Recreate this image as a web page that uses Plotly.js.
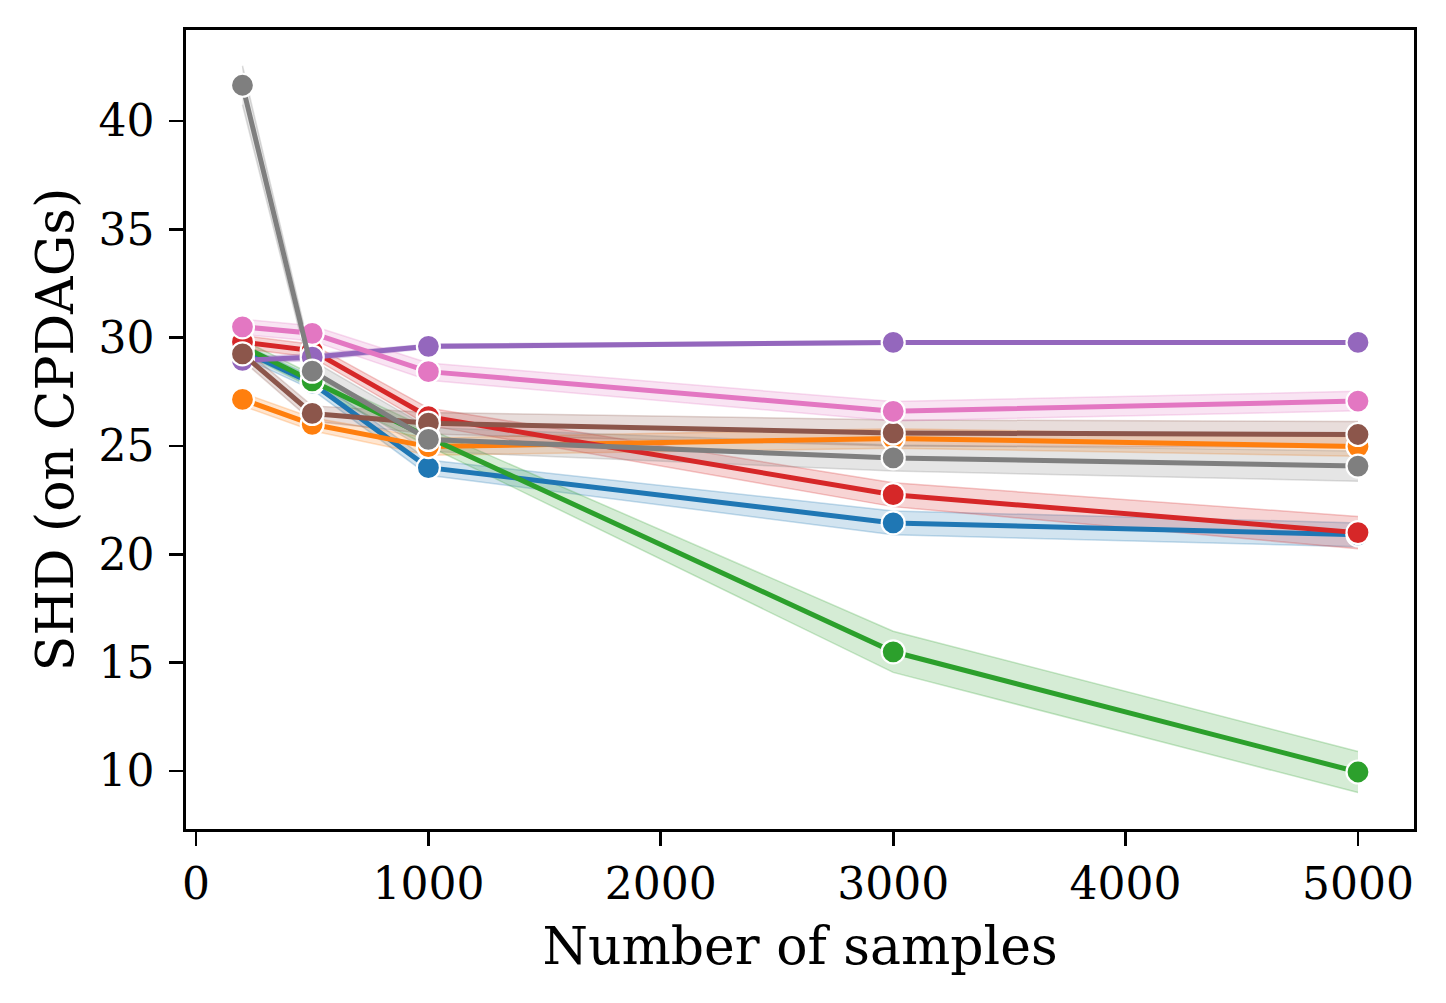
<!DOCTYPE html>
<html>
<head>
<meta charset="utf-8">
<script src="https://cdn.plot.ly/plotly-3.0.1.min.js"></script>
<style>html,body{margin:0;padding:0;background:#fff;}#chart{width:1446px;height:1003px;}</style>
</head>
<body>
<div id="chart"></div>
<script>
const samples = [200, 500, 1000, 3000, 5000];

const seriesNames = ["s1", "s2", "s3", "s4", "s5", "s6", "s7", "s8"];
const seriesColors = ["#1f77b4", "#ff7f0e", "#2ca02c", "#d62728", "#9467bd", "#8c564b", "#e377c2", "#7f7f7f"];

const blueMean   = [29.4, 27.9, 24.0, 21.45, 20.9];
const orangeMean = [27.15, 26.0, 24.97, 25.35, 24.97];
const greenMean  = [29.6, 28.0, 25.4, 15.5, 9.95];
const redMean    = [29.8, 29.4, 26.35, 22.75, 21.0];
const purpleMean = [28.95, 29.1, 29.6, 29.78, 29.78];
const brownMean  = [29.25, 26.5, 26.05, 25.6, 25.53];
const pinkMean   = [30.5, 30.2, 28.43, 26.6, 27.07];
const grayMean   = [41.65, 28.45, 25.3, 24.45, 24.07];

const blueHalf   = [0.3, 0.3, 0.35, 0.55, 0.55];
const orangeHalf = [0.3, 0.3, 0.4, 0.45, 0.45];
const greenHalf  = [0.3, 0.3, 0.4, 0.95, 0.95];
const redHalf    = [0.3, 0.3, 0.4, 0.55, 0.75];
const purpleHalf = [0.15, 0.15, 0.1, 0.08, 0.08];
const brownHalf  = [0.3, 0.35, 0.5, 0.6, 0.6];
const pinkHalf   = [0.35, 0.35, 0.4, 0.45, 0.45];
const grayHalf   = [0.9, 0.5, 0.55, 0.6, 0.7];

const xTicks = [0, 1000, 2000, 3000, 4000, 5000];
const yTicks = [10, 15, 20, 25, 30, 35, 40];

const means = [blueMean, orangeMean, greenMean, redMean, purpleMean, brownMean, pinkMean, grayMean];
const halves = [blueHalf, orangeHalf, greenHalf, redHalf, purpleHalf, brownHalf, pinkHalf, grayHalf];

function rgba(hex, a) {
  const r = parseInt(hex.slice(1,3),16), g = parseInt(hex.slice(3,5),16), b = parseInt(hex.slice(5,7),16);
  return `rgba(${r},${g},${b},${a})`;
}

const traces = [];
means.forEach((m, i) => {
  const lo = m.map((v, k) => v - halves[i][k]);
  const hi = m.map((v, k) => v + halves[i][k]);
  traces.push({x: samples, y: lo, mode: 'lines', line: {color: rgba(seriesColors[i], 0.25), width: 1.5}, showlegend: false, hoverinfo: 'skip'});
  traces.push({x: samples, y: hi, mode: 'lines', fill: 'tonexty', fillcolor: rgba(seriesColors[i], 0.2), line: {color: rgba(seriesColors[i], 0.25), width: 1.5}, showlegend: false, hoverinfo: 'skip'});
});
means.forEach((m, i) => {
  traces.push({
    x: samples, y: m, mode: 'lines+markers', name: seriesNames[i],
    line: {color: seriesColors[i], width: 5},
    marker: {color: seriesColors[i], size: 23, line: {color: '#ffffff', width: 2.2}},
    showlegend: false
  });
});

const font = "DejaVu Serif, Liberation Serif, serif";
const layout = {
  width: 1446, height: 1003,
  paper_bgcolor: '#fff', plot_bgcolor: '#fff',
  margin: {l: 186, r: 32, t: 30, b: 174},
  showlegend: false,
  font: {family: font, color: '#000'},
  xaxis: {
    range: [-43, 5241], tickvals: xTicks, ticktext: xTicks.map(String),
    showgrid: false, zeroline: false,
    showline: true, linecolor: '#000', linewidth: 2.7, mirror: true,
    ticks: 'outside', ticklen: 14, tickwidth: 2.7, tickcolor: '#000',
    tickfont: {family: font, size: 44, color: '#000'},
    ticklabelstandoff: 0,
    title: {text: 'Number of samples', font: {family: font, size: 52, color: '#000'}, standoff: 20},
    automargin: false
  },
  yaxis: {
    range: [7.32, 44.2], tickvals: yTicks, ticktext: yTicks.map(String),
    showgrid: false, zeroline: false,
    showline: true, linecolor: '#000', linewidth: 2.7, mirror: true,
    ticks: 'outside', ticklen: 14, tickwidth: 2.7, tickcolor: '#000',
    tickfont: {family: font, size: 44, color: '#000'},
    ticklabelstandoff: 6,
    title: {text: 'SHD (on CPDAGs)', font: {family: font, size: 52, color: '#000'}, standoff: 9},
    automargin: false
  }
};

Plotly.newPlot('chart', traces, layout, {displayModeBar: false, staticPlot: true});
</script>
</body>
</html>
